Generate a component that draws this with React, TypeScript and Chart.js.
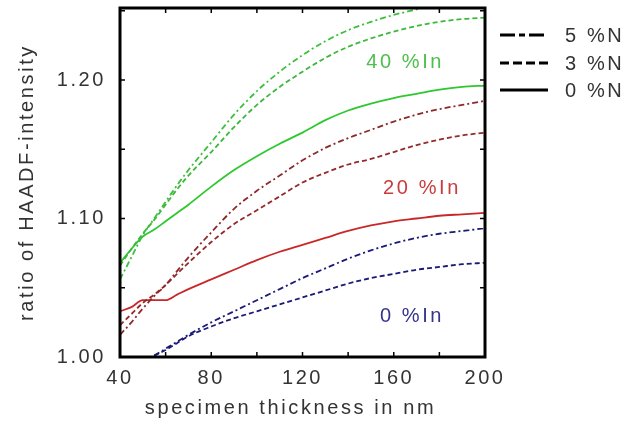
import React, { useEffect, useRef } from 'react';
import { Chart, registerables } from 'chart.js';

Chart.register(...registerables);

// ---- data ----
const thickness = [40, 45, 50, 55, 60, 65, 70, 80, 90, 100, 110, 120, 130, 140, 150, 160, 170, 180, 190, 200];

const in40N5 = [1.056, 1.072, 1.088, 1.100, 1.112, 1.124, 1.135, 1.155, 1.175, 1.192, 1.206, 1.218, 1.228, 1.236, 1.242, 1.247, 1.251, 1.255, 1.258, 1.261];
const in40N3 = [1.066, 1.078, 1.089, 1.099, 1.110, 1.121, 1.131, 1.148, 1.166, 1.182, 1.195, 1.206, 1.216, 1.224, 1.230, 1.235, 1.239, 1.242, 1.244, 1.245];
const in40N0 = [1.068, 1.078, 1.087, 1.092, 1.098, 1.104, 1.110, 1.123, 1.135, 1.145, 1.154, 1.162, 1.171, 1.178, 1.183, 1.187, 1.190, 1.193, 1.195, 1.196];

const in20N5 = [1.016, 1.025, 1.035, 1.044, 1.052, 1.062, 1.072, 1.090, 1.107, 1.120, 1.131, 1.142, 1.151, 1.158, 1.164, 1.170, 1.175, 1.179, 1.182, 1.185];
const in20N3 = [1.023, 1.031, 1.039, 1.045, 1.052, 1.060, 1.068, 1.083, 1.096, 1.106, 1.116, 1.126, 1.133, 1.139, 1.143, 1.148, 1.153, 1.157, 1.160, 1.162];
const in20N0 = [1.033, 1.036, 1.041, 1.041, 1.041, 1.045, 1.049, 1.056, 1.063, 1.070, 1.076, 1.081, 1.086, 1.091, 1.095, 1.098, 1.100, 1.102, 1.103, 1.104];

const in0N5 = [null, null, null, 1.001, 1.006, 1.011, 1.016, 1.025, 1.033, 1.041, 1.049, 1.057, 1.064, 1.071, 1.077, 1.082, 1.086, 1.089, 1.091, 1.093];
const in0N3 = [null, null, null, 1.001, 1.005, 1.010, 1.015, 1.022, 1.028, 1.033, 1.038, 1.043, 1.048, 1.053, 1.057, 1.060, 1.063, 1.065, 1.067, 1.068];

const xTickValues = [40, 60, 80, 100, 120, 140, 160, 180, 200];
const xLabelValues = [40, 80, 120, 160, 200];
const yTickValues = [1.0, 1.05, 1.1, 1.15, 1.2, 1.25];
const yLabelValues = [1.0, 1.1, 1.2];

const xTitle = 'specimen thickness in nm';
const yTitle = 'ratio of HAADF-intensity';
const legendLabels = ['5 %N', '3 %N', '0 %N'];
const groupLabels = ['40 %In', '20 %In', '0 %In'];
const groupLabelX = [165, 172.4, 168];
const groupLabelY = [1.213, 1.122, 1.029];

// ---- styles ----
const DASH_DOT = [6, 3, 2, 3];
const DASHED = [5, 3];
const SOLID: number[] = [];
const LEGEND_DASHES = [[15, 4, 6, 4], [9, 4], []];
const GROUP_COLORS = ['#4cbf4c', '#c83c3c', '#34348c'];
const TEXT_COLOR = '#333333';
const FONT_FAMILY = '"Liberation Sans", Arial, sans-serif';
const SPACING = '2.6px';

const series = [
  { label: '40 %In, 5 %N', data: in40N5, color: '#3cc03c', dash: DASH_DOT },
  { label: '40 %In, 3 %N', data: in40N3, color: '#3cb83c', dash: DASHED },
  { label: '40 %In, 0 %N', data: in40N0, color: '#2ec82e', dash: SOLID },
  { label: '20 %In, 5 %N', data: in20N5, color: '#8c2a2a', dash: DASH_DOT },
  { label: '20 %In, 3 %N', data: in20N3, color: '#962a2a', dash: DASHED },
  { label: '20 %In, 0 %N', data: in20N0, color: '#c82828', dash: SOLID },
  { label: '0 %In, 5 %N', data: in0N5, color: '#1a1a78', dash: DASH_DOT },
  { label: '0 %In, 3 %N', data: in0N3, color: '#1a1a78', dash: DASHED },
];

const near = (arr: number[], v: number) => arr.some((a) => Math.abs(a - v) < 1e-6);

const decorPlugin = {
  id: 'decor',
  beforeLayout(chart: any) {
    chart.ctx.letterSpacing = SPACING;
  },
  beforeDraw(chart: any) {
    chart.ctx.letterSpacing = SPACING;
  },
  afterDraw(chart: any) {
    const { ctx, chartArea } = chart;
    const xs = chart.scales.x;
    const ys = chart.scales.y;
    const { left, right, top, bottom } = chartArea;
    ctx.save();
    ctx.letterSpacing = SPACING;
    // inward ticks
    ctx.strokeStyle = '#000';
    ctx.lineWidth = 1.5;
    ctx.setLineDash([]);
    const tl = 5;
    ctx.beginPath();
    xTickValues.forEach((v) => {
      const px = xs.getPixelForValue(v);
      ctx.moveTo(px, bottom);
      ctx.lineTo(px, bottom - tl);
      ctx.moveTo(px, top);
      ctx.lineTo(px, top + tl);
    });
    yTickValues.forEach((v) => {
      const py = ys.getPixelForValue(v);
      ctx.moveTo(left, py);
      ctx.lineTo(left + tl, py);
      ctx.moveTo(right, py);
      ctx.lineTo(right - tl, py);
    });
    ctx.stroke();
    // frame
    ctx.lineWidth = 3;
    ctx.strokeRect(left, top, right - left, bottom - top);

    ctx.font = `20px ${FONT_FAMILY}`;
    ctx.textBaseline = 'middle';

    // x-axis title
    ctx.fillStyle = TEXT_COLOR;
    ctx.textAlign = 'center';
    ctx.fillText(xTitle, (left + right) / 2 - 12, bottom + 51);

    // group labels
    ctx.textAlign = 'center';
    groupLabels.forEach((t, i) => {
      ctx.fillStyle = GROUP_COLORS[i];
      ctx.fillText(t, xs.getPixelForValue(groupLabelX[i]), ys.getPixelForValue(groupLabelY[i]));
    });

    // legend
    const lx0 = right + 15;
    const lx1 = right + 63;
    const ly = [top + 27, top + 55, top + 82];
    legendLabels.forEach((t, i) => {
      ctx.strokeStyle = '#000';
      ctx.lineWidth = 3;
      ctx.setLineDash(LEGEND_DASHES[i]);
      ctx.beginPath();
      ctx.moveTo(lx0, ly[i]);
      ctx.lineTo(lx1, ly[i]);
      ctx.stroke();
      ctx.setLineDash([]);
      ctx.fillStyle = TEXT_COLOR;
      ctx.textAlign = 'left';
      ctx.fillText(t, right + 80, ly[i] + 1);
    });
    ctx.restore();
  },
};

export default function App() {
  const canvasRef = useRef<HTMLCanvasElement | null>(null);

  useEffect(() => {
    if (!canvasRef.current) return;
    const chart = new Chart(canvasRef.current, {
      type: 'line',
      data: {
        datasets: series.map((s) => ({
          label: s.label,
          data: thickness.map((t, i) => ({ x: t, y: s.data[i] })),
          borderColor: s.color,
          borderWidth: 1.8,
          borderDash: s.dash,
          pointRadius: 0,
          fill: false,
          spanGaps: false,
          cubicInterpolationMode: 'monotone',
        })),
      },
      options: {
        animation: false,
        responsive: true,
        maintainAspectRatio: false,
        layout: { padding: { left: 0, right: 144, top: 8, bottom: 0 } },
        plugins: {
          legend: { display: false },
          tooltip: { enabled: false },
        },
        scales: {
          x: {
            type: 'linear',
            min: 40,
            max: 200,
            grid: { display: false, drawTicks: false },
            border: { display: false },
            afterFit: (s: any) => {
              s.height = 69;
              s.paddingLeft = 0;
              s.paddingRight = 0;
            },
            ticks: {
              stepSize: 20,
              autoSkip: false,
              maxRotation: 0,
              padding: 9,
              color: TEXT_COLOR,
              font: { size: 20, family: FONT_FAMILY },
              callback: (v: any) => (near(xLabelValues, Number(v)) ? String(v) : ''),
            },
            title: { display: false },
          },
          y: {
            type: 'linear',
            min: 1.0,
            max: 1.252,
            grid: { display: false, drawTicks: false },
            border: { display: false },
            afterFit: (s: any) => {
              s.width = 120;
              s.paddingTop = 0;
              s.paddingBottom = 0;
            },
            ticks: {
              stepSize: 0.05,
              autoSkip: false,
              padding: 14,
              color: TEXT_COLOR,
              font: { size: 20, family: FONT_FAMILY },
              callback: (v: any) => (near(yLabelValues, Number(v)) ? Number(v).toFixed(2) : ''),
            },
            title: {
              display: true,
              text: yTitle,
              color: TEXT_COLOR,
              font: { size: 20, family: FONT_FAMILY },
              padding: { top: 15, bottom: 0 },
            },
          },
        },
      },
      plugins: [decorPlugin],
    } as any);
    return () => chart.destroy();
  }, []);

  return (
    <div style={{ position: 'fixed', left: 0, top: 0, width: 629, height: 426, background: '#fff' }}>
      <canvas ref={canvasRef} />
    </div>
  );
}
